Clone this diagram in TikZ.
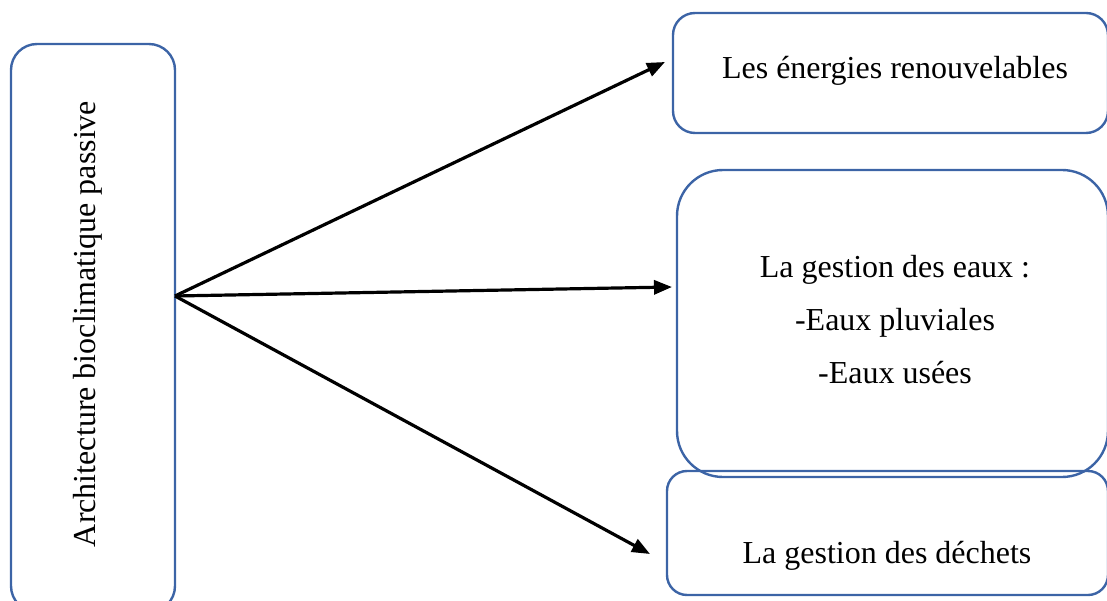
\documentclass[tikz,border=0pt]{standalone}
\usepackage{fontspec}
\setmainfont{Liberation Serif}
\usetikzlibrary{arrows.meta}
\definecolor{boxblue}{RGB}{60,100,166}
\begin{document}
\begin{tikzpicture}[x=1pt,y=-1pt,
  box/.style={draw=boxblue, line width=2.4pt, inner sep=0pt, fill=none},
  lbl/.style={font=\fontsize{32}{53}\selectfont, align=center, inner sep=0pt},
  link/.style={line width=3.2pt, -{Triangle[length=18pt,width=14pt]}}]
\useasboundingbox (0,0) rectangle (1107,601);
\clip (0,0) rectangle (1107,601);

% frames
\node[box, rounded corners=26pt, minimum width=164pt, minimum height=568pt] (arch) at (93,328) {};
\node[box, rounded corners=22pt, minimum width=435pt, minimum height=120pt] (ener) at (890.5,73) {};
\node[box, rounded corners=46pt, minimum width=431pt, minimum height=307pt] (eaux) at (892.5,323.5) {};
\node[box, rounded corners=20pt, minimum width=441pt, minimum height=124pt] (dech) at (887.5,533) {};

% labels
\node[lbl, rotate=90] (archtxt) at (88,324) {Architecture bioclimatique passive};
\node[lbl] (enertxt) at (895,71) {Les énergies renouvelables};
\node[lbl] (eauxtxt) at (895,320) {La gestion des eaux :\\-Eaux pluviales\\-Eaux usées};
\node[lbl] (dechtxt) at (887,556) {La gestion des déchets};

% connectors
\coordinate (src) at (175,296);
\coordinate (tip1) at (665,62);
\coordinate (tip2) at (672,287);
\coordinate (tip3) at (650,554);
\draw[link] (src) -- (tip1);
\draw[link] (src) -- (tip2);
\draw[link] (src) -- (tip3);
\end{tikzpicture}
\end{document}
